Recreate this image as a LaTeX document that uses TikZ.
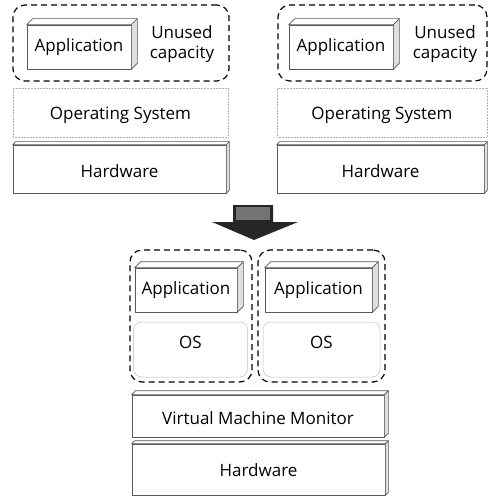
\documentclass[tikz,border=0pt]{standalone}
\usepackage{fontspec}
\setmainfont{Open Sans}
\usetikzlibrary{calc, positioning}

% bevel (top and right faces) on a box node
\newcommand{\bevel}[2]{%
  \draw[face] (#1.north west) -- ++(#2,-#2) -- ($(#1.north east)+(#2,-#2)$) -- (#1.north east) -- cycle;
  \draw[face, fill=gray!25] (#1.north east) -- ++(#2,-#2) -- ($(#1.south east)+(#2,-#2)$) -- (#1.south east) -- cycle;
}

\begin{document}
\begin{tikzpicture}[
                x=1pt, y=-1pt,
                font=\fontsize{17}{20}\selectfont,
                capbox/.style={draw=black, line width=1.2pt, dash pattern=on 6pt off 4pt, rounded corners=12pt, inner sep=0pt},
                appbox/.style={draw=black!65, line width=0.7pt, fill=white, inner sep=0pt},
                face/.style={draw=black!65, line width=0.7pt, fill=white, line join=round},
                osbox/.style={draw=black!30, line width=0.5pt, densely dotted, inner sep=0pt},
                hwbox/.style={draw=black!65, line width=0.7pt, inner sep=0pt},
                vosbox/.style={draw=black!25, line width=0.5pt, rounded corners=8pt, inner sep=0pt},
                label/.style={align=center, inner sep=0pt}
            ]
            \useasboundingbox (0,0) rectangle (491,497);

            % Left machine
            \node[capbox, minimum width=216pt, minimum height=76pt] (cap-1) at (121,43) {};
            \node[appbox, minimum width=104pt, minimum height=44pt] (app-1) at (79,47) {};
            \node[osbox, minimum width=215pt, minimum height=49pt] (os-1) at (120.5,112.5) {};
            \node[hwbox, minimum width=213pt, minimum height=48pt] (hw-1) at (119.5,169) {};

            % Right machine
            \node[capbox, minimum width=209pt, minimum height=76pt] (cap-2) at (382.5,43) {};
            \node[appbox, minimum width=104pt, minimum height=44pt] (app-2) at (341,47) {};
            \node[osbox, minimum width=210pt, minimum height=49pt] (os-2) at (382,112.5) {};
            \node[hwbox, minimum width=207pt, minimum height=48pt] (hw-2) at (380.5,169) {};

            \bevel{app-1}{6}
            \bevel{app-2}{6}
            \bevel{hw-1}{3}
            \bevel{hw-2}{3}

            \node[label] (app-label-1) at (app-1) {Application};
            \node[label] (app-label-2) at (app-2) {Application};
            \node[label] (unused-1) at (182,44) {Unused\\capacity};
            \node[label] (unused-2) at (445,44) {Unused\\capacity};
            \node[label] (os-label-1) at (120.5,115) {Operating System};
            \node[label] (os-label-2) at (382,115) {Operating System};
            \node[label] (hw-label-1) at (119.5,171) {Hardware};
            \node[label] (hw-label-2) at (380.5,171) {Hardware};

            % Arrow
            \fill[black!85] (233,205) -- (273,205) -- (273,222) -- (298,222)
                -- (254,240) -- (212,222) -- (233,222) -- cycle;
            \fill[black!55] (236,207) rectangle (270,220);

            % Virtualized machine
            \node[capbox, minimum width=122pt, minimum height=132pt] (vm-1) at (191,316) {};
            \node[capbox, minimum width=127pt, minimum height=132pt] (vm-2) at (321.5,316) {};
            \node[vosbox, minimum width=114pt, minimum height=55pt] (os-3) at (190.5,349.5) {};
            \node[vosbox, minimum width=117pt, minimum height=55pt] (os-4) at (321.5,349.5) {};
            \node[label] (os-label-3) at (190.5,342) {OS};
            \node[label] (os-label-4) at (321.5,342) {OS};
            \node[appbox, minimum width=102pt, minimum height=44pt] (app-3) at (186,290) {};
            \node[appbox, minimum width=107pt, minimum height=44pt] (app-4) at (318.5,290) {};
            \bevel{app-3}{6}
            \bevel{app-4}{6}
            \node[label] (app-label-3) at (app-3) {Application};
            \node[label] (app-label-4) at (app-4) {Application};

            \node[hwbox, minimum width=252pt, minimum height=42pt] (vmm) at (258,416) {};
            \node[hwbox, minimum width=253pt, minimum height=51pt] (hw-3) at (258.5,469.5) {};
            \bevel{vmm}{4}
            \bevel{hw-3}{3}
            \node[label] (vmm-label) at (258,418) {Virtual Machine Monitor};
            \node[label] (hw-label-3) at (258.5,470) {Hardware};

        \end{tikzpicture}
\end{document}
